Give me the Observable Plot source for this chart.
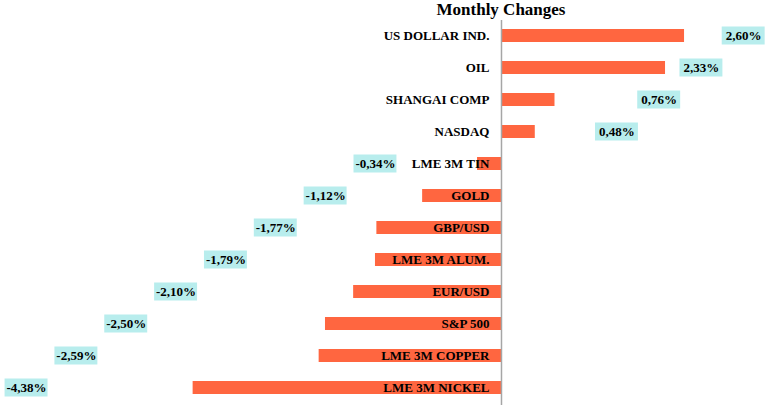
<!DOCTYPE html>
<html>
<head>
<meta charset="utf-8">
<script src="https://cdn.jsdelivr.net/npm/d3@7"></script>
<script src="https://cdn.jsdelivr.net/npm/@observablehq/plot@0.6"></script>
<style>
  html, body { margin: 0; padding: 0; background: #fff; }
  #title { width: 770px; height: 20px; box-sizing: border-box; padding-left: 232px; text-align: center;
    font-family: "Liberation Serif", "Times New Roman", serif; font-weight: bold; font-size: 17px; line-height: 20px; color: #000; }
</style>
</head>
<body>
<div id="title">Monthly Changes</div>
<div id="chart"></div>
<script>
const categories = ["US DOLLAR IND.", "OIL", "SHANGAI COMP", "NASDAQ", "LME 3M TIN", "GOLD", "GBP/USD", "LME 3M ALUM.", "EUR/USD", "S&P 500", "LME 3M COPPER", "LME 3M NICKEL"];
const changes = [2.60, 2.33, 0.76, 0.48, -0.34, -1.12, -1.77, -1.79, -2.10, -2.50, -2.59, -4.38];
const valueLabels = ["2,60%", "2,33%", "0,76%", "0,48%", "-0,34%", "-1,12%", "-1,77%", "-1,79%", "-2,10%", "-2,50%", "-2,59%", "-4,38%"];

// Build table; data labels sit in a staircase (as in the source chart)
let posRank = 0, negRank = 0;
const data = categories.map((c, i) => {
  const v = changes[i];
  let lx;
  if (v >= 0) { lx = 3.44 - 0.6 * posRank; posRank++; }
  else { lx = -1.79 - 0.708 * negRank; negRank++; }
  return { category: c, value: v, label: valueLabels[i], lx };
});

const font = '"Liberation Serif", "Times New Roman", serif';
const chart = Plot.plot({
  width: 770,
  height: 397,
  marginTop: 0,
  marginBottom: 15,
  marginLeft: 0,
  marginRight: 0,
  style: { fontFamily: font, background: "#fff" },
  x: { domain: [-7.116, 3.821], axis: null },
  y: { domain: categories, paddingInner: 0.6, paddingOuter: 0.235, axis: null },
  marks: [
    Plot.barX(data, { y: "category", x1: 0, x2: "value", fill: "#FF6640" }),
    Plot.ruleX([0], { stroke: "#A6A6A6", strokeWidth: 1.5, insetTop: -2, insetBottom: -3 }),
    Plot.text(data, { y: "category", x: 0, text: "category", textAnchor: "end", dx: -12, dy: 0,
      fontSize: 13, fontWeight: "bold", fill: "#000" }),
    Plot.barX(data, { y: "category", x1: d => d.lx - 0.305, x2: d => d.lx + 0.305, fill: "#B8EDED",
      insetTop: -2.5, insetBottom: -2.5 }),
    Plot.text(data, { y: "category", x: "lx", text: "label", textAnchor: "middle",
      fontSize: 13, fontWeight: "bold", fill: "#000" })
  ]
});
document.getElementById("chart").appendChild(chart);
</script>
</body>
</html>
